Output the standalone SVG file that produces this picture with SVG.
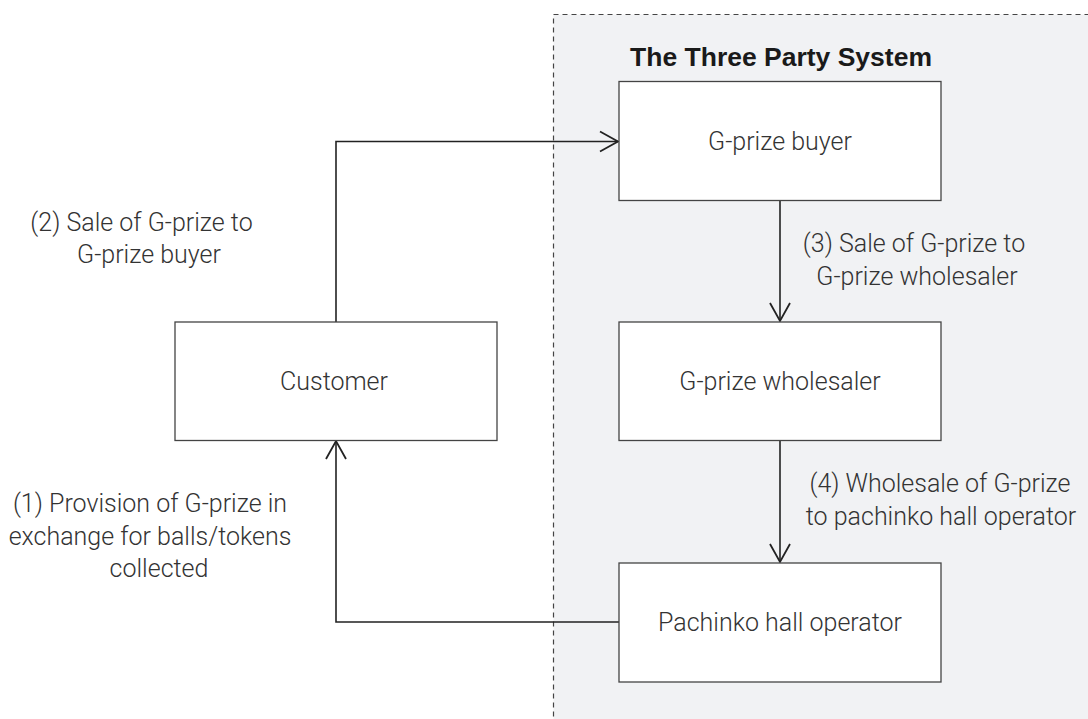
<svg xmlns="http://www.w3.org/2000/svg" width="1088" height="719" viewBox="0 0 1088 719">
<style>
.box{fill:#fff;stroke:#444;stroke-width:1.3}
.t{font-family:Roboto,"Liberation Sans",sans-serif;font-weight:300;font-size:25px;fill:#333;text-anchor:middle}
.c{fill:none;stroke:#222;stroke-width:1.6}
.title{font-family:"Liberation Sans",Arial,sans-serif;font-weight:bold;font-size:26.5px;fill:#1a1a1a;text-anchor:middle}
</style>
<defs>
<marker id="arr" viewBox="0 0 22 24" refX="20" refY="12" markerWidth="22" markerHeight="24" markerUnits="userSpaceOnUse" orient="auto">
<path d="M2,2 L20,12 L2,22" fill="none" stroke="#222" stroke-width="1.8"/>
</marker>
</defs>
<rect x="0" y="0" width="1088" height="719" fill="#fff"/>
<g id="system">
<rect x="553.5" y="14.5" width="545" height="715" fill="#f1f2f4" stroke="#444" stroke-width="1.2" stroke-dasharray="5,4"/>
<text class="title" x="781" y="66">The Three Party System</text>
</g>
<g id="connectors">
<path class="c" d="M336,322 V141.5 H618" marker-end="url(#arr)"/>
<path class="c" d="M780,200 V321" marker-end="url(#arr)"/>
<path class="c" d="M780,440 V562" marker-end="url(#arr)"/>
<path class="c" d="M619,622 H336 V441" marker-end="url(#arr)"/>
</g>
<g id="buyer">
<rect class="box" x="619" y="81.5" width="322" height="119"/>
<text class="t" x="780" y="150">G-prize buyer</text>
</g>
<g id="wholesaler">
<rect class="box" x="619" y="322" width="322" height="118.5"/>
<text class="t" x="780" y="390">G-prize wholesaler</text>
</g>
<g id="operator">
<rect class="box" x="619" y="563" width="322" height="119"/>
<text class="t" x="780" y="631">Pachinko hall operator</text>
</g>
<g id="customer">
<rect class="box" x="175" y="322" width="322" height="118.5"/>
<text class="t" x="334" y="390">Customer</text>
</g>
<g id="labels">
<text class="t" x="141.5" y="231">(2) Sale of G-prize to</text>
<text class="t" x="149" y="263">G-prize buyer</text>
<text class="t" x="150" y="512">(1) Provision of G-prize in</text>
<text class="t" x="150" y="545">exchange for balls/tokens</text>
<text class="t" x="159" y="577">collected</text>
<text class="t" x="914" y="252">(3) Sale of G-prize to</text>
<text class="t" x="917" y="285">G-prize wholesaler</text>
<text class="t" x="940" y="492">(4) Wholesale of G-prize</text>
<text class="t" x="941" y="525">to pachinko hall operator</text>
</g>
</svg>
